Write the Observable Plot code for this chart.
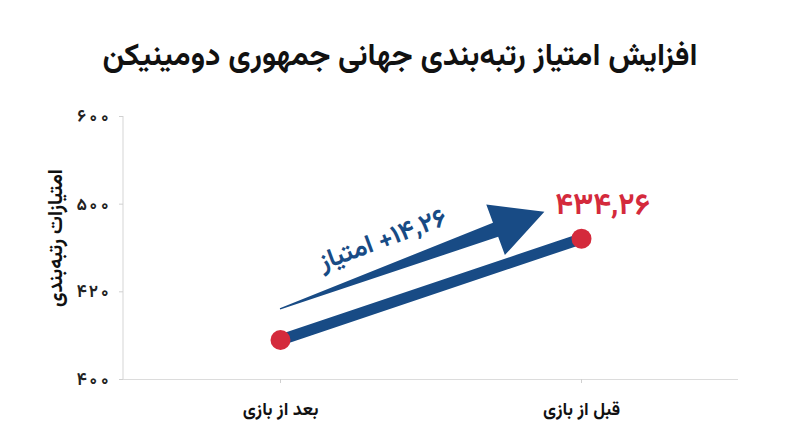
<!DOCTYPE html>
<html lang="fa">
<head>
<meta charset="utf-8">
<script src="https://cdn.jsdelivr.net/npm/d3@7"></script>
<script src="https://cdn.jsdelivr.net/npm/@observablehq/plot@0.6"></script>
<style>
  html, body { margin: 0; padding: 0; background: #fff; }
  body { width: 800px; height: 447px; overflow: hidden; font-family: "Vazirmatn", "Noto Sans Arabic", "DejaVu Sans", sans-serif; }
  #title { height: 95px; box-sizing: border-box; padding-top: 38px; line-height: 40px; text-align: center; font-weight: bold; font-size: 31px; color: #111; direction: rtl; }
  #chart svg { display: block; }
</style>
</head>
<body>
<div id="title"></div>
<div id="chart"></div>
<script>
const titleText = "افزایش امتیاز رتبه‌بندی جهانی جمهوری دومینیکن";
const yLabel = "امتیازات رتبه‌بندی";
const categories = ["بعد از بازی", "قبل از بازی"];
const values = [409, 468.5];
const yTicks = [400, 420, 500, 600];
const yTickLabels = ["۴۰۰", "۴۲۰", "۵۰۰", "۶۰۰"];
const valueLabel = "۴۳۴,۲۶";
const gainLabel = "\u2067۱۴,۲۶+ امتیاز\u2069";
const arrowStart = 416;
const arrowEnd = 506;

const NAVY = "#184b85";
const RED = "#d42a3c";
const FONT = '"Vazirmatn", "Noto Sans Arabic", "DejaVu Sans", sans-serif';

document.getElementById("title").textContent = titleText;

const data = categories.map((c, i) => ({cat: c, value: values[i]}));

function axisLine(index, scales, channels, dims) {
  return d3.create("svg:line")
    .attr("x1", dims.marginLeft).attr("x2", dims.marginLeft)
    .attr("y1", scales.y(yTicks[yTicks.length - 1])).attr("y2", scales.y(yTicks[0]))
    .attr("stroke", "#dcdcdc").attr("stroke-width", 1.2)
    .node();
}

function taperedArrow(index, scales, channels, dims) {
  const x1 = scales.x(categories[0]), y1 = scales.y(arrowStart);
  const x2 = scales.x(categories[1]), y2 = scales.y(arrowEnd);
  const dx = x2 - x1, dy = y2 - y1;
  const full = Math.hypot(dx, dy);
  const ux = dx / full, uy = dy / full;
  const nx = -uy, ny = ux;
  const L = full - 39;
  const headLen = 52, headHalf = 27, shaftHalf = 7.5;
  const bx = x1 + ux * (L - headLen), by = y1 + uy * (L - headLen);
  const tx = x1 + ux * L, ty = y1 + uy * L;
  const pts = [
    [x1 - nx * 0.6, y1 - ny * 0.6],
    [bx - nx * shaftHalf, by - ny * shaftHalf],
    [bx - nx * headHalf, by - ny * headHalf],
    [tx, ty],
    [bx + nx * headHalf, by + ny * headHalf],
    [bx + nx * shaftHalf, by + ny * shaftHalf],
    [x1 + nx * 0.6, y1 + ny * 0.6]
  ];
  return d3.create("svg:path")
    .attr("d", "M" + pts.map(p => p.join(",")).join("L") + "Z")
    .attr("fill", NAVY)
    .node();
}

const plot = Plot.plot({
  width: 800,
  height: 352,
  marginTop: 21,
  marginBottom: 68,
  marginLeft: 123,
  marginRight: 62,
  style: {fontFamily: FONT, background: "#fff", overflow: "visible"},
  x: {type: "point", domain: categories, padding: 0.52, label: null},
  y: {type: "linear", domain: yTicks, label: null},
  marks: [
    Plot.ruleY([yTicks[0]], {stroke: "#dcdcdc", strokeWidth: 1.2}),
    axisLine,
    Plot.axisY({ticks: yTicks, tickFormat: d => yTickLabels[yTicks.indexOf(d)], tickSize: 4, tickPadding: 9,
      stroke: "#d0d0d0", fill: "#222", fontSize: 17, fontWeight: "bold", label: null}),
    Plot.axisX({tickSize: 4, tickPadding: 19, stroke: "#d0d0d0", fill: "#111", fontSize: 18, fontWeight: "bold", label: null}),
    taperedArrow,
    Plot.line(data, {x: "cat", y: "value", stroke: NAVY, strokeWidth: 11}),
    Plot.dot(data, {x: "cat", y: "value", r: 10, fill: RED}),
    Plot.text([data[1]], {x: "cat", y: "value", text: () => valueLabel, dx: 21, dy: -34, fill: RED, fontSize: 30, fontWeight: "bold"}),
    Plot.text([{cat: categories[0], value: arrowStart}], {x: "cat", y: "value", text: () => gainLabel, dx: 102, dy: -70, rotate: -20.3, fill: NAVY, fontSize: 26, fontWeight: "bold"}),
    Plot.text([yLabel], {frameAnchor: "left", textAnchor: "middle", text: d => d, rotate: -90, dx: -68, dy: -10, fontSize: 20, fontWeight: "bold", fill: "#111"})
  ]
});
document.getElementById("chart").appendChild(plot);
</script>
</body>
</html>
